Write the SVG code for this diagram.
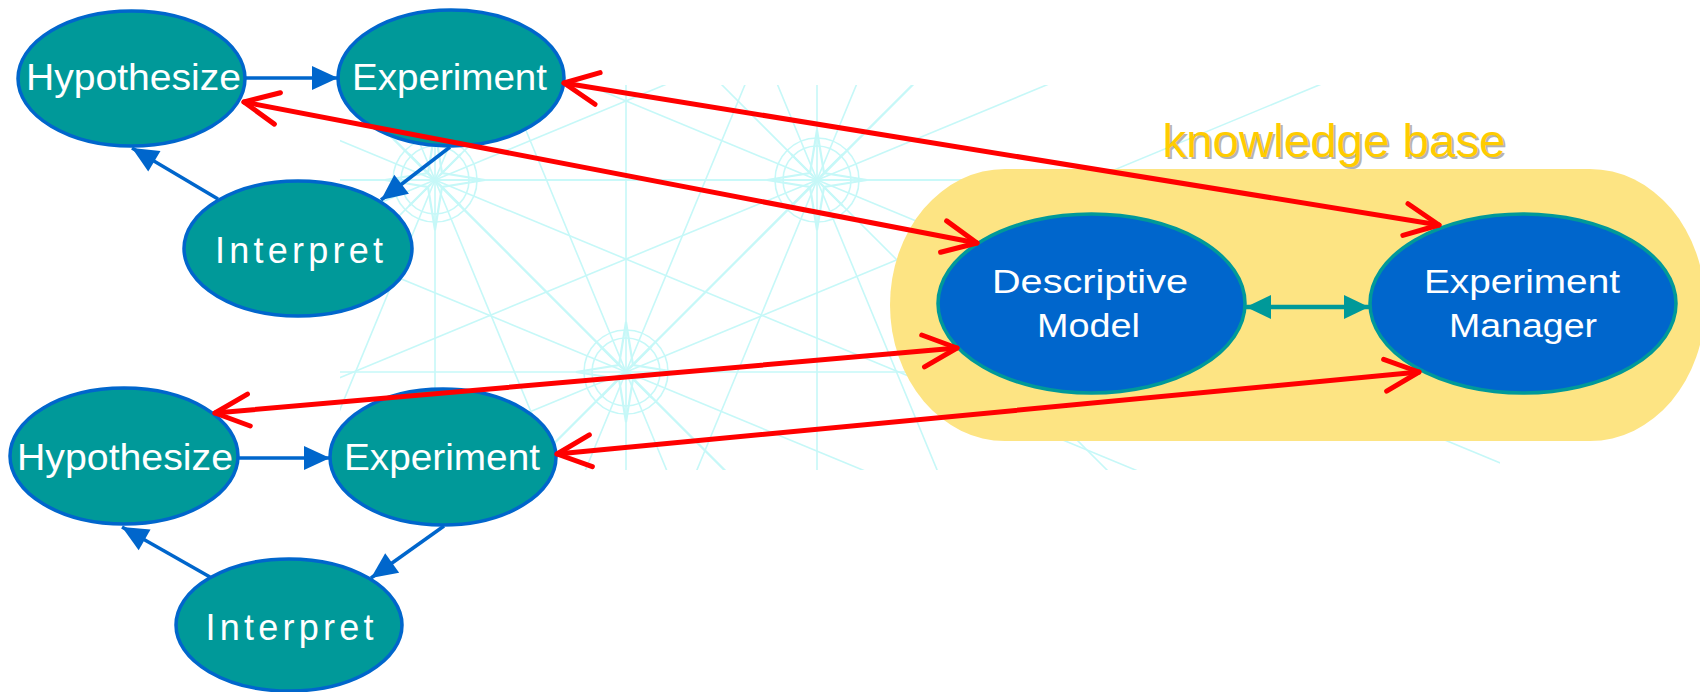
<svg xmlns="http://www.w3.org/2000/svg" xmlns:xlink="http://www.w3.org/1999/xlink" width="1700" height="692" viewBox="0 0 1700 692">
<style>
.proc ellipse{fill:#009999;stroke:#0066CC;stroke-width:3.5}
.kb ellipse{fill:#0066CC;stroke:#009999;stroke-width:3.5}
.lbl{font-family:"Liberation Sans",Arial,sans-serif;fill:#FFFFFF;text-anchor:middle}
.blue{stroke:#0066CC;stroke-width:3.5;fill:none}
.red{stroke:#FF0000;stroke-width:5;fill:none;stroke-linecap:round}
.teal{stroke:#009999;stroke-width:4.5;fill:none}
</style>
<defs>
<marker id="blueHead" markerUnits="userSpaceOnUse" viewBox="-27 -13 28 26" refX="0" refY="0" markerWidth="28" markerHeight="26" orient="auto">
<path d="M-26 -12 L0 0 L-26 12 Z" fill="#0066CC"/>
</marker>
<marker id="tealHead" markerUnits="userSpaceOnUse" viewBox="-27 -13 28 26" refX="0" refY="0" markerWidth="28" markerHeight="26" orient="auto-start-reverse">
<path d="M-25 -12 L0 0 L-25 12 Z" fill="#009999"/>
</marker>
<marker id="redHead" markerUnits="userSpaceOnUse" viewBox="-40 -20 44 40" refX="0" refY="0" markerWidth="44" markerHeight="40" orient="auto-start-reverse">
<path d="M-34 -16 L0 0 L-34 16" fill="none" stroke="#FF0000" stroke-width="5" stroke-linecap="round" stroke-linejoin="round"/>
</marker>
<clipPath id="patClip"><rect x="340" y="85" width="1160" height="385"/></clipPath>
<g id="rose" stroke="#C6F8F8" stroke-width="1.6" fill="none">
<line x1="-800" y1="0" x2="800" y2="0"/>
<line x1="-739" y1="-306" x2="739" y2="306"/>
<line x1="-566" y1="-566" x2="566" y2="566"/>
<line x1="-306" y1="-739" x2="306" y2="739"/>
<line x1="0" y1="-800" x2="0" y2="800"/>
<line x1="306" y1="-739" x2="-306" y2="739"/>
<line x1="566" y1="-566" x2="-566" y2="566"/>
<line x1="739" y1="-306" x2="-739" y2="306"/>
<circle r="42"/>
<circle r="34"/>
<path d="M0 -50 L7 -7 L50 0 L7 7 L0 50 L-7 7 L-50 0 L-7 -7 Z" stroke-width="2.2"/>
<path d="M26 -26 L4 -4 M-26 -26 L-4 -4 M26 26 L4 4 M-26 26 L-4 4" stroke-width="2.2"/>
</g>
</defs>
<rect width="1700" height="692" fill="#FFFFFF"/>
<g id="background-pattern" clip-path="url(#patClip)">
<use xlink:href="#rose" href="#rose" transform="translate(435,180)"/>
<use xlink:href="#rose" href="#rose" transform="translate(817,180)"/>
<use xlink:href="#rose" href="#rose" transform="translate(626,372)"/>
</g>
<g id="knowledge-base">
<rect x="890" y="169" width="815" height="272" rx="115" ry="136" fill="#FDE483"/>
<text x="1336" y="159" font-family="'Liberation Sans',Arial,sans-serif" font-size="46" text-anchor="middle" fill="#B4B4B4" textLength="343" lengthAdjust="spacingAndGlyphs">knowledge base</text>
<text x="1334" y="157" font-family="'Liberation Sans',Arial,sans-serif" font-size="46" text-anchor="middle" fill="#FFCC00" textLength="343" lengthAdjust="spacingAndGlyphs">knowledge base</text>
</g>
<g id="hyp1" class="proc"><ellipse cx="131.5" cy="78.5" rx="113.5" ry="67.5"/><text class="lbl" x="133.5" y="90" font-size="36" textLength="215" lengthAdjust="spacingAndGlyphs">Hypothesize</text></g>
<g id="exp1" class="proc"><ellipse cx="451" cy="78" rx="113" ry="68"/><text class="lbl" x="449.5" y="90" font-size="36" textLength="195" lengthAdjust="spacingAndGlyphs">Experiment</text></g>
<g id="int1" class="proc"><ellipse cx="298" cy="248.5" rx="114" ry="67.5"/><text class="lbl" x="299" y="263" font-size="36" textLength="168" lengthAdjust="spacing">Interpret</text></g>
<g id="hyp2" class="proc"><ellipse cx="124" cy="456" rx="114" ry="68"/><text class="lbl" x="125" y="470" font-size="36" textLength="216" lengthAdjust="spacingAndGlyphs">Hypothesize</text></g>
<g id="exp2" class="proc"><ellipse cx="443" cy="457" rx="113" ry="68"/><text class="lbl" x="442" y="470" font-size="36" textLength="196" lengthAdjust="spacingAndGlyphs">Experiment</text></g>
<g id="int2" class="proc"><ellipse cx="289" cy="625" rx="113" ry="66"/><text class="lbl" x="289.5" y="640" font-size="36" textLength="168" lengthAdjust="spacing">Interpret</text></g>
<g id="desc-model" class="kb"><ellipse cx="1091.5" cy="303.5" rx="153.5" ry="89.5"/>
<text class="lbl" x="1090" y="293" font-size="34" textLength="196" lengthAdjust="spacingAndGlyphs">Descriptive</text>
<text class="lbl" x="1088.5" y="337" font-size="34" textLength="103" lengthAdjust="spacingAndGlyphs">Model</text></g>
<g id="exp-manager" class="kb"><ellipse cx="1523" cy="303.5" rx="153" ry="89.5"/>
<text class="lbl" x="1522" y="293" font-size="34" textLength="196" lengthAdjust="spacingAndGlyphs">Experiment</text>
<text class="lbl" x="1523" y="337" font-size="34" textLength="148" lengthAdjust="spacingAndGlyphs">Manager</text></g>
<g id="connectors">
<line class="blue" x1="245" y1="78" x2="338" y2="78" marker-end="url(#blueHead)"/>
<line class="blue" x1="450" y1="147" x2="381" y2="200" marker-end="url(#blueHead)"/>
<line class="blue" x1="218" y1="199" x2="132" y2="148" marker-end="url(#blueHead)"/>
<line class="blue" x1="238" y1="458" x2="330" y2="458" marker-end="url(#blueHead)"/>
<line class="blue" x1="444" y1="526" x2="371" y2="578" marker-end="url(#blueHead)"/>
<line class="blue" x1="210" y1="577" x2="122" y2="527" marker-end="url(#blueHead)"/>
<line class="teal" x1="1246" y1="307" x2="1369" y2="307" marker-start="url(#tealHead)" marker-end="url(#tealHead)"/>
<line class="red" x1="564" y1="83" x2="1439" y2="225" marker-start="url(#redHead)" marker-end="url(#redHead)"/>
<line class="red" x1="244" y1="102" x2="977" y2="243" marker-start="url(#redHead)" marker-end="url(#redHead)"/>
<line class="red" x1="215" y1="413" x2="957" y2="348" marker-start="url(#redHead)" marker-end="url(#redHead)"/>
<line class="red" x1="557" y1="454" x2="1419" y2="372" marker-start="url(#redHead)" marker-end="url(#redHead)"/>
</g>
</svg>
